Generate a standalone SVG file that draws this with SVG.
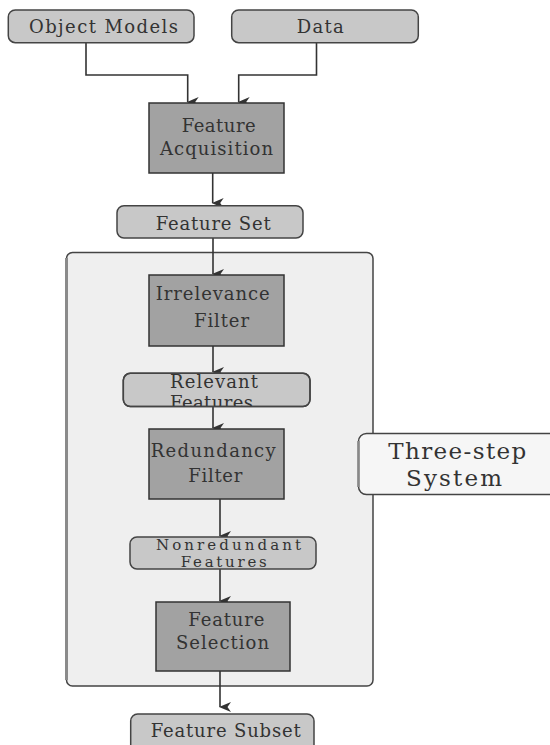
<svg xmlns="http://www.w3.org/2000/svg" width="550" height="745" viewBox="0 0 550 745">
<style>
  .t { font-family: "DejaVu Serif", "Liberation Serif", serif; font-size: 18px; fill: #333; }
  .big { font-size: 23px; }
  .sm { font-size: 15px; }
  .dark { fill: #a2a2a2; stroke: #333; stroke-width: 1.5; }
  .pill { fill: #c8c8c8; stroke: #444; stroke-width: 1.5; }
  .conn { fill: none; stroke: #333; stroke-width: 1.6; }
</style>
<defs>
  <marker id="arr" markerWidth="10" markerHeight="12" refX="5" refY="11" orient="auto" markerUnits="userSpaceOnUse" viewBox="0 0 10 12">
    <path d="M0,0 L5,3.5 L10,0 L5,12 Z" fill="#333"/>
  </marker>
  <clipPath id="relClip"><rect x="123" y="373" width="187" height="33"/></clipPath>
</defs>
<rect width="550" height="745" fill="#fff"/>

<g id="container">
  <rect x="66.5" y="252.5" width="306.5" height="433.5" rx="6" fill="#efefef" stroke="#444" stroke-width="1.5"/>
  <line x1="66.5" y1="258" x2="66.5" y2="680" stroke="#8a8a8a" stroke-width="3"/>
</g>

<g id="connectors">
  <path class="conn" d="M86 43 V75 H187.7 V102" marker-end="url(#arr)"/>
  <path class="conn" d="M316.5 43 V75 H238.7 V102" marker-end="url(#arr)"/>
  <path class="conn" d="M212.7 173 V203" marker-end="url(#arr)"/>
  <path class="conn" d="M213 238 V274" marker-end="url(#arr)"/>
  <path class="conn" d="M213 346 V372" marker-end="url(#arr)"/>
  <path class="conn" d="M213 406 V428" marker-end="url(#arr)"/>
  <path class="conn" d="M220 499 V536" marker-end="url(#arr)"/>
  <path class="conn" d="M220 569 V601" marker-end="url(#arr)"/>
  <path class="conn" d="M220 686 V707" marker-end="url(#arr)"/>
  <path class="conn" d="M220 671 V686"/>
</g>

<g id="object-models">
  <rect class="pill" x="8.3" y="10" width="185.7" height="32.7" rx="7"/>
  <text class="t" x="29" y="33.3" textLength="149" lengthAdjust="spacing">Object Models</text>
</g>
<g id="data">
  <rect class="pill" x="231.7" y="10" width="186.6" height="32.7" rx="7"/>
  <text class="t" x="296.7" y="33.3" textLength="47" lengthAdjust="spacing">Data</text>
</g>
<g id="feature-acquisition">
  <rect class="dark" x="149" y="103" width="135" height="70"/>
  <text class="t" x="181.7" y="131.7" textLength="74" lengthAdjust="spacing">Feature</text>
  <text class="t" x="160" y="155" textLength="113" lengthAdjust="spacing">Acquisition</text>
</g>
<g id="feature-set">
  <rect class="pill" x="117" y="205.7" width="186" height="32.3" rx="7"/>
  <text class="t" x="155.7" y="230" textLength="115" lengthAdjust="spacing">Feature Set</text>
</g>
<g id="irrelevance-filter">
  <rect class="dark" x="149" y="275" width="135" height="71"/>
  <text class="t" x="155.7" y="300" textLength="114" lengthAdjust="spacing">Irrelevance</text>
  <text class="t" x="194" y="327.3" textLength="55" lengthAdjust="spacing">Filter</text>
</g>
<g id="relevant-features">
  <rect class="pill" x="123.3" y="373.3" width="186.7" height="33.3" rx="7"/>
  <g clip-path="url(#relClip)">
    <text class="t" x="170" y="387.7" textLength="88" lengthAdjust="spacing">Relevant</text>
    <text class="t" x="170" y="408.5" textLength="83" lengthAdjust="spacing">Features</text>
  </g>
  <rect x="123.3" y="373.3" width="186.7" height="33.3" rx="7" fill="none" stroke="#444" stroke-width="1.5"/>
</g>
<g id="redundancy-filter">
  <rect class="dark" x="149" y="429" width="135" height="70"/>
  <text class="t" x="150.7" y="456.7" textLength="125" lengthAdjust="spacing">Redundancy</text>
  <text class="t" x="188.3" y="481.7" textLength="54" lengthAdjust="spacing">Filter</text>
</g>
<g id="nonredundant-features">
  <rect class="pill" x="130" y="537" width="186" height="32" rx="7"/>
  <text class="t sm" x="156" y="549.5" textLength="145" lengthAdjust="spacing">Nonredundant</text>
  <text class="t sm" x="180.7" y="567" textLength="86" lengthAdjust="spacing">Features</text>
</g>
<g id="feature-selection">
  <rect class="dark" x="156" y="602" width="134" height="69"/>
  <text class="t" x="188.3" y="625.7" textLength="76" lengthAdjust="spacing">Feature</text>
  <text class="t" x="176" y="649" textLength="93" lengthAdjust="spacing">Selection</text>
</g>
<g id="feature-subset">
  <rect class="pill" x="130.7" y="714" width="183.3" height="40" rx="7"/>
  <text class="t" x="150.7" y="736.7" textLength="150" lengthAdjust="spacing">Feature Subset</text>
</g>
<g id="three-step-system">
  <rect x="358.5" y="433.5" width="200" height="61" rx="8" fill="#f6f6f6" stroke="#444" stroke-width="1.5"/>
  <line x1="358.5" y1="441" x2="358.5" y2="487" stroke="#888" stroke-width="2.5"/>
  <text class="t big" x="388.3" y="459" textLength="138" lengthAdjust="spacing">Three-step</text>
  <text class="t big" x="406" y="486" textLength="96" lengthAdjust="spacing">System</text>
</g>
</svg>
